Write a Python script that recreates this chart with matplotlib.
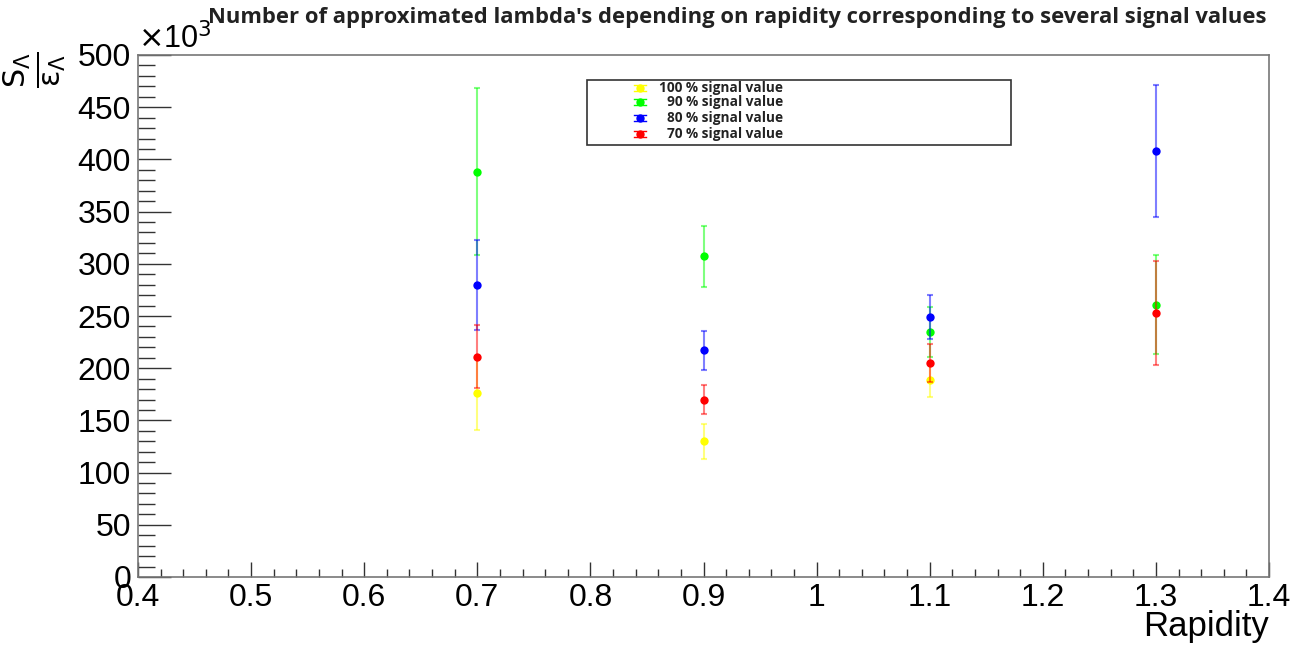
import matplotlib
matplotlib.use("Agg")
import matplotlib.pyplot as plt
from matplotlib.ticker import MultipleLocator, FuncFormatter
from matplotlib.patches import Rectangle

# ---- data (values in units of 10^3) ----
rapidity = [0.7, 0.9, 1.1, 1.3]
labels = ["100 % signal value", "90 % signal value", "80 % signal value", "70 % signal value"]
colors = ["#ffff00", "#00ff00", "#0000ff", "#ff0000"]

y100 = [176, 130, 189]
e100 = [35, 17, 17]
x100 = [0.7, 0.9, 1.1]

y90 = [388, 307, 235, 261]
e90 = [80, 29, 24, 47]

y80 = [280, 217, 249, 408]
e80 = [43, 19, 21, 63]

y70 = [211, 170, 205, 253]
e70 = [30, 14, 18, 50]

series = [(x100, y100, e100), (rapidity, y90, e90), (rapidity, y80, e80), (rapidity, y70, e70)]

fig = plt.figure(figsize=(12.98, 6.46), dpi=100)
ax = fig.add_axes([138/1298, 1 - 577/646, (1269-138)/1298, (577-55)/646])

for (xs, ys, es), c in zip(series, colors):
    ax.errorbar(xs, ys, yerr=es, fmt='none', ecolor=c, alpha=0.5, elinewidth=1.5,
                capsize=2.5, capthick=1.5)
    ax.plot(xs, ys, 'o', color=c, markersize=6, markeredgewidth=0)

ax.set_xlim(0.4, 1.4)
ax.set_ylim(0, 500)

ax.xaxis.set_major_locator(MultipleLocator(0.1))
ax.xaxis.set_minor_locator(MultipleLocator(0.02))
ax.yaxis.set_major_locator(MultipleLocator(50))
ax.yaxis.set_minor_locator(MultipleLocator(10))

ax.xaxis.set_major_formatter(FuncFormatter(lambda v, p: ("%g" % round(v, 2))))
ax.yaxis.set_major_formatter(FuncFormatter(lambda v, p: ("%d" % round(v))))

for s in ax.spines.values():
    s.set_color('#777777')
    s.set_linewidth(1.2)

ax.tick_params(axis='both', which='both', direction='in', top=False, right=False, color='#333333', width=1)
ax.tick_params(axis='y', which='major', length=24, labelsize=23, pad=5)
ax.tick_params(axis='y', which='minor', length=12.5)
ax.tick_params(axis='x', which='major', length=11, labelsize=23, pad=4)
ax.tick_params(axis='x', which='minor', length=5.5)
for lab in ax.get_xticklabels() + ax.get_yticklabels():
    lab.set_family(['Liberation Sans', 'DejaVu Sans'])

# x10^3 multiplier
ax.text(0.0, 1.0, r'$\times$10$^{3}$', transform=ax.transAxes, ha='left', va='bottom',
        fontsize=22, family=['Liberation Sans', 'DejaVu Sans'])

# y label (fraction)
fig.text(2/1298, 1 - 51/646, r'$\frac{\mathrm{S}_{\Lambda}}{\mathrm{\varepsilon}_{\Lambda}}$', rotation=90,
         ha='left', va='top', fontsize=31, math_fontfamily='dejavusans')

# x label
ax.set_xlabel('Rapidity', fontsize=25, family=['Liberation Sans', 'DejaVu Sans'], ha='right', va='top')
ax.xaxis.set_label_coords(1.0, -0.064)

# title
fig.text(737/1298, 1 - 17/646, "Number of approximated lambda's depending on rapidity corresponding to several signal values",
         ha='center', va='center', fontsize=15.8, fontweight='bold', family=['Open Sans', 'DejaVu Sans'], color='#222222')

# legend box (manual, ROOT-style)
lx0, ly0, lx1, ly1 = 587/1298, 1 - 145/646, 1011/1298, 1 - 80/646
fig.patches.append(Rectangle((lx0, ly0), lx1 - lx0, ly1 - ly0, transform=fig.transFigure,
                             facecolor='white', edgecolor='#333333', linewidth=1.2, zorder=5))
rows_y = [88, 102, 118, 134]
for lab, c, ry in zip(labels, colors, rows_y):
    yf = 1 - ry/646
    xm = 640/1298
    fig.lines.append(plt.Line2D([xm - 6/1298, xm + 6/1298], [yf + 3/646, yf + 3/646], transform=fig.transFigure, color=c, lw=1, zorder=6))
    fig.lines.append(plt.Line2D([xm - 6/1298, xm + 6/1298], [yf - 3/646, yf - 3/646], transform=fig.transFigure, color=c, lw=1, zorder=6))
    fig.lines.append(plt.Line2D([xm], [yf], transform=fig.transFigure, marker='o', color=c, markersize=6, markeredgewidth=0, zorder=7))
    fig.text(783/1298, yf, lab, ha='right', va='center', fontsize=9.8, fontweight='bold',
             family=['Open Sans', 'DejaVu Sans'], color='#222222', zorder=8)

fig.savefig('out.png', dpi=100)
